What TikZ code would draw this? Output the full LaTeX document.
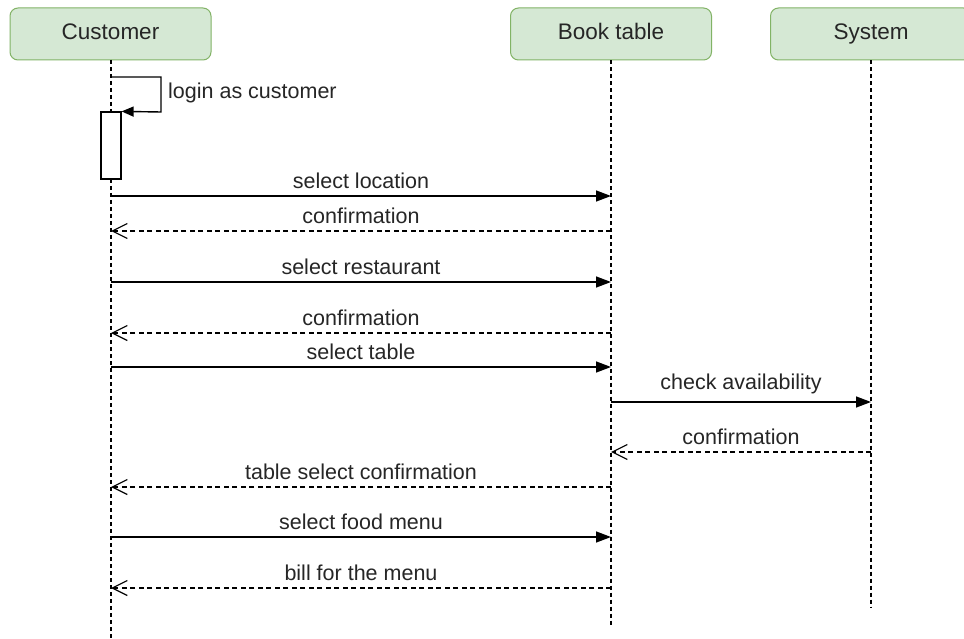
\documentclass[tikz,border=0pt]{standalone}
\usepackage{fontspec}
\setmainfont{Liberation Sans}
\usetikzlibrary{arrows.meta}
\definecolor{hdrfill}{HTML}{D5E8D4}
\definecolor{hdrdraw}{HTML}{82B366}
\definecolor{txt}{HTML}{262626}
\begin{document}
\begin{tikzpicture}[x=1pt,y=-1pt,
  header/.style={draw=hdrdraw,fill=hdrfill,line width=1pt,rounded corners=8pt,minimum width=201pt,minimum height=52pt,inner sep=0pt,text=txt,text height=16pt,text depth=4pt,font=\fontsize{22.5}{26}\selectfont},
  life/.style={line width=1.2pt,dash pattern=on 4pt off 3pt},
  msg/.style={line width=1.4pt,-{Triangle[length=15pt,width=11pt]}},
  ret/.style={line width=1.2pt,dash pattern=on 5pt off 3.5pt,-{Straight Barb[length=15pt,width=15pt,line width=1.2pt]}},
  lbl/.style={text=txt,font=\fontsize{21.5}{25}\selectfont,inner sep=0pt,anchor=base}]
\useasboundingbox (0,0) rectangle (964,639);
\fill[white] (0,0) rectangle (964,639);
\begin{scope}
\clip (0,0) rectangle (964,639);
\node[header] (cust) at (110.5,34) {Customer};
\node[header] (book) at (611,34) {Book table};
\node[header] (sys) at (871,34) {System};
\end{scope}
% lifeline ends
\coordinate (custend) at (111,639);
\coordinate (bookend) at (611,625);
\coordinate (sysend) at (871,607);
\draw[life] (111,60) -- (custend);
\draw[life] (book.south) -- (bookend);
\draw[life] (sys.south) -- (sysend);
% activation
\node[draw,line width=1.2pt,fill=white,minimum width=20pt,minimum height=67pt,inner sep=0pt] (act) at (111,145.5) {};
% self message
\coordinate (s0) at (111,77);
\coordinate (s1) at (161,77);
\coordinate (s2) at (161,112);
\draw[line width=1.4pt,-{Triangle[length=12pt,width=10pt]}] (s0) -- (s1) -- (s2) -- (act.north east);
\node[lbl,anchor=west] (l0) at (168,93) {login as customer};
% message coordinates
\foreach \n/\y in {1/196,2/231,3/282,4/333,5/367,8/487,9/537,10/588}{
  \coordinate (c\n) at (111,\y);
  \coordinate (b\n) at (611,\y);
}
\foreach \n/\y in {6/402,7/452}{
  \coordinate (b\n) at (611,\y);
  \coordinate (y\n) at (871,\y);
}
\draw[msg] (c1) -- node[lbl,above=7pt] (l1) {select location} (b1);
\draw[ret] (b2) -- node[lbl,above=7pt] (l2) {confirmation} (c2);
\draw[msg] (c3) -- node[lbl,above=7pt] (l3) {select restaurant} (b3);
\draw[ret] (b4) -- node[lbl,above=7pt] (l4) {confirmation} (c4);
\draw[msg] (c5) -- node[lbl,above=7pt] (l5) {select table} (b5);
\draw[msg] (b6) -- node[lbl,above=7pt] (l6) {check availability} (y6);
\draw[ret] (y7) -- node[lbl,above=7pt] (l7) {confirmation} (b7);
\draw[ret] (b8) -- node[lbl,above=7pt] (l8) {table select confirmation} (c8);
\draw[msg] (c9) -- node[lbl,above=7pt] (l9) {select food menu} (b9);
\draw[ret] (b10) -- node[lbl,above=7pt] (l10) {bill for the menu} (c10);
\end{tikzpicture}
\end{document}
